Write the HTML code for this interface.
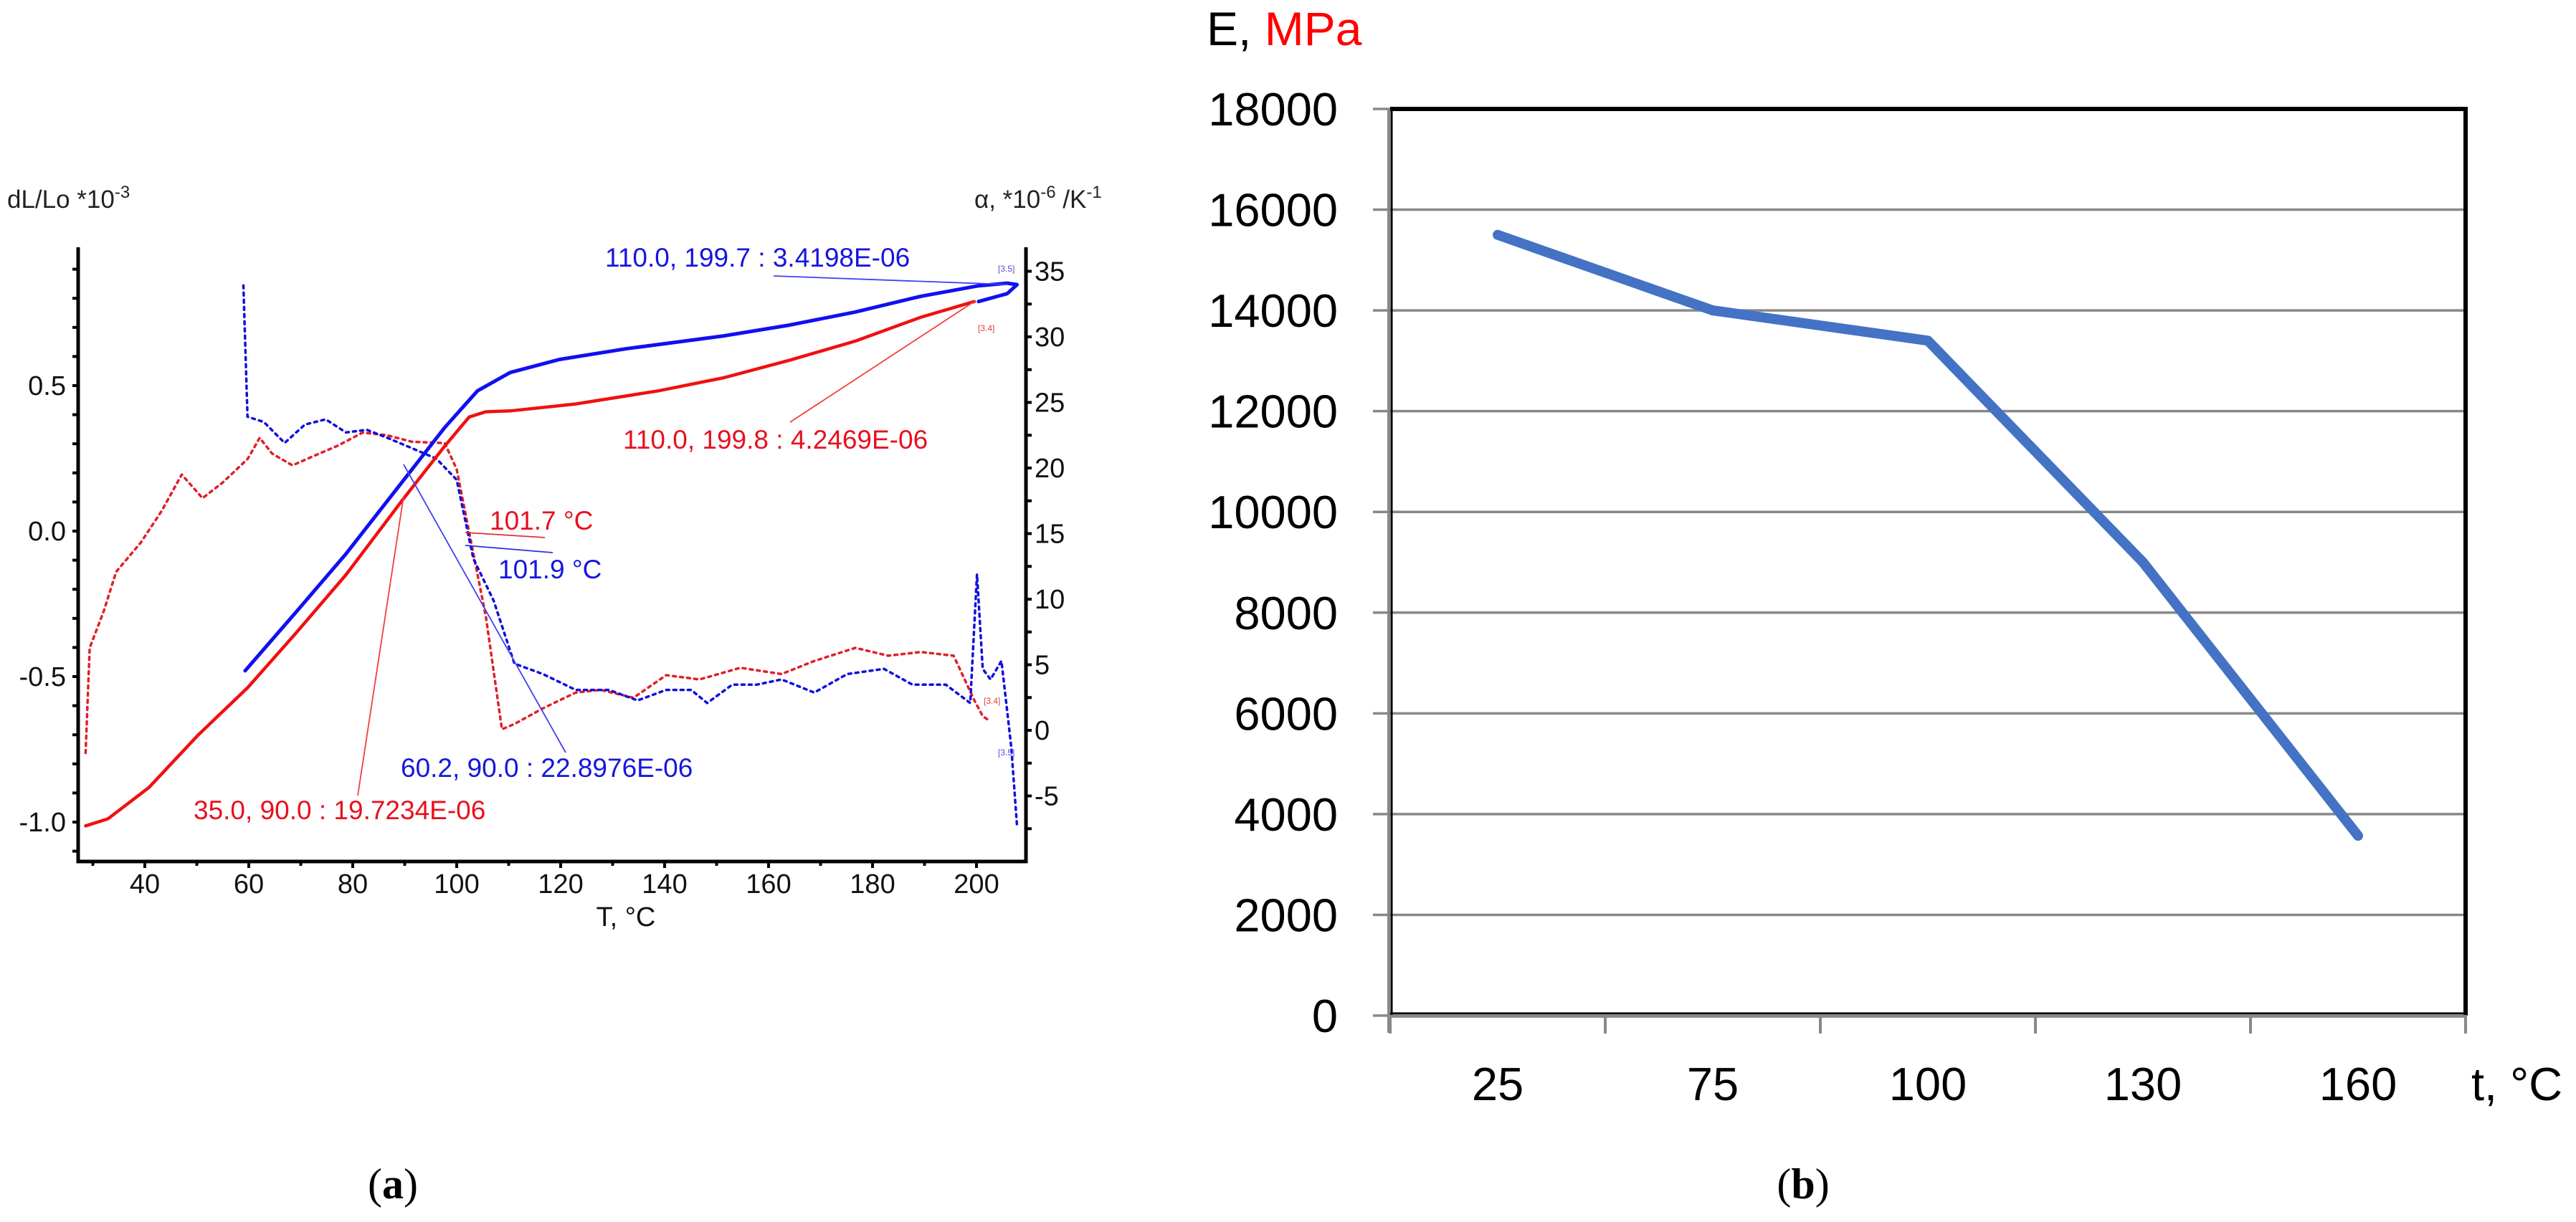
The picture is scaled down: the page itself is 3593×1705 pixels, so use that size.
<!DOCTYPE html>
<html><head><meta charset="utf-8"><style>
html,body{margin:0;padding:0;background:#fff;}
svg{display:block;font-family:"Liberation Sans",Arial,sans-serif;}
</style></head><body>
<svg id="fig" width="3593" height="1705" viewBox="0 0 3593 1705" xmlns="http://www.w3.org/2000/svg">
<rect width="3593" height="1705" fill="#fff"/>
<g id="chartA"></g>
<g id="chartB"></g>
</svg>
<script>
// ---------- Chart (a) data ----------
const redSolidT = [28.6,32.9,40.8,50.3,59.8,69.2,78.7,89.8,97.7,102.4,105.6,110.3,122.9,138.8,151.4,164,176.7,189.3,199.6];
const redSolidV = [-1.013,-0.989,-0.881,-0.700,-0.538,-0.348,-0.150,0.112,0.292,0.392,0.410,0.413,0.437,0.482,0.527,0.587,0.653,0.735,0.789];
const blueSolidT = [59.3,69.2,78.7,88.2,97.7,104,110.3,119.8,132.4,151.4,164,176.7,189.3,200.4,205.9,207.8,205.9,200.4];
const blueSolidV = [-0.480,-0.276,-0.078,0.139,0.356,0.482,0.545,0.590,0.626,0.671,0.708,0.753,0.807,0.843,0.852,0.847,0.816,0.789];
const redDotT = [28.6,29.4,32.1,34.5,39.2,43.2,47.1,51.1,55.0,59.8,62.1,64.5,68.4,72.4,77.1,81.9,86.6,91.4,97.7,100.0,103.2,105.6,108.7,111.1,116.6,122.9,127.7,134.0,140.3,146.7,154.6,162.5,168.8,176.7,183.0,189.3,195.6,199.6,201.2,202.7];
const redDotA = [-1.72,6.29,9.09,12.1,14.3,16.7,19.5,17.7,18.9,20.7,22.3,21.1,20.2,20.9,21.7,22.7,22.5,22.0,21.9,19.9,13.5,8.7,0.08,0.48,1.68,2.88,3.08,2.48,4.21,3.88,4.77,4.29,5.29,6.29,5.69,5.97,5.69,2.28,1.08,0.68];
const blueDotT = [58.96,59.75,62.9,66.9,70.8,74.8,78.7,82.7,86.6,91.4,96.1,100.0,103.2,107.1,111.1,116.6,122.9,129.3,134.8,140.3,145.1,148.2,153.0,157.7,162.5,168.8,175.1,182.2,187.7,194.1,198.8,200.1,201.2,202.7,204.8,205.9,206.7,207.8];
const blueDotA = [33.92,23.91,23.51,21.91,23.31,23.71,22.71,22.91,22.31,21.51,20.71,19.10,13.10,9.89,5.09,4.29,3.08,3.08,2.28,3.08,3.08,2.08,3.48,3.48,3.88,2.88,4.29,4.69,3.48,3.48,2.08,11.9,4.69,3.88,5.29,1.48,-1.32,-7.33];
const xTicksA = [40,60,80,100,120,140,160,180,200];
const yLeftTicks = [-1.0,-0.5,0.0,0.5];
const yLeftLabels = ["-1.0","-0.5","0.0","0.5"];
const yRightTicks = [-5,0,5,10,15,20,25,30,35];

// ---------- Chart (b) data ----------
const categoriesB = ["25","75","100","130","160"];
const modulusB = [15500,14000,13400,9000,3570];
const yTicksB = [0,2000,4000,6000,8000,10000,12000,14000,16000,18000];

const NS="http://www.w3.org/2000/svg";
function mk(parent,tag,attrs,text){const e=document.createElementNS(NS,tag);for(const k in attrs)e.setAttribute(k,attrs[k]);if(text!==undefined)e.textContent=text;parent.appendChild(e);return e;}

// ---- chart A ----
const A=document.getElementById('chartA');
const axL=109, axR=1431, axT=345, axB=1202;
const xA=t=>202+(t-40)*7.25;
const yL=v=>741-v*406;
const yR=a=>1019-a*18.3;

let e;
// axes
e=mk(A,'path',{d:`M${axL},${axT} L${axL},${axB} L${axR},${axB} L${axR},${axT}`,fill:'none',stroke:'#000','stroke-width':5});


// x ticks
for(let t=30;t<=205;t+=10){
  e=mk(A,'line',{x1:xA(t),x2:xA(t),y1:axB,y2:axB+(t%20===0?9:6),stroke:'#000','stroke-width':4});
  
  
}
xTicksA.forEach(t=>{
  e=mk(A,'text',{x:xA(t),y:1246,'font-size':38,'text-anchor':'middle',fill:'#111'},String(t));
  
  
});
e=mk(A,'text',{x:873,y:1292,'font-size':38,'text-anchor':'middle',fill:'#111'},'T,  °C');


// left ticks
for(let v=-1.1;v<=0.96;v+=0.1){
  e=mk(A,'line',{x1:axL-8,x2:axL,y1:yL(v),y2:yL(v),stroke:'#000','stroke-width':4});
  
  
}
yLeftTicks.forEach((v,i)=>{
  e=mk(A,'text',{x:92,y:yL(v)+13,'font-size':38,'text-anchor':'end',fill:'#111'},yLeftLabels[i]);
  
  
});
// right ticks
for(let a=-7.5;a<=35.1;a+=2.5){
  e=mk(A,'line',{x1:axR,x2:axR+8,y1:yR(a),y2:yR(a),stroke:'#000','stroke-width':4});
  
  
}
yRightTicks.forEach(a=>{
  e=mk(A,'text',{x:1443,y:yR(a)+13,'font-size':38,'text-anchor':'start',fill:'#111'},String(a));
  
  
});
// axis titles
e=mk(A,'text',{x:10,y:290,'font-size':35,fill:'#222'});


e.innerHTML='dL/Lo *10<tspan dy="-14" font-size="24">-3</tspan>';
e=mk(A,'text',{x:1359,y:290,'font-size':35,fill:'#222'});


e.innerHTML='α,  *10<tspan dy="-14" font-size="24">-6</tspan><tspan dy="14"> /K</tspan><tspan dy="-14" font-size="24">-1</tspan>';

function series(T,V,yf,color,w,dash,name){
  const d=T.map((t,i)=>(i?'L':'M')+xA(t).toFixed(1)+','+yf(V[i]).toFixed(1)).join(' ');
  const attrs={d:d,fill:'none',stroke:color,'stroke-width':w,'stroke-linejoin':'round','stroke-linecap':'round'};
  if(dash)attrs['stroke-dasharray']=dash;
  const p=mk(A,'path',attrs);
  
  
}
series(redDotT,redDotA,yR,'#e0202a',3.5,'4,6','alpha-heating-dotted');
series(blueDotT,blueDotA,yR,'#1010e0',3.5,'4,6','alpha-cooling-dotted');
series(redSolidT,redSolidV,yL,'#f01010',4.5,null,'dl-heating-line');
series(blueSolidT,blueSolidV,yL,'#1010f0',5,null,'dl-cooling-line');

// annotations
function leader(x1,y1,x2,y2,c,name){
  const l=mk(A,'line',{x1:x1,y1:y1,x2:x2,y2:y2,stroke:c,'stroke-width':1.8});
  
  
}
function note(x,y,txt,c,name,fs){
  const t=mk(A,'text',{x:x,y:y,'font-size':fs||37,fill:c},txt);
  
  
}
leader(1079,385,1406,397,'#4040f0','annotation-leader-blue-top');
note(844,372,'110.0, 199.7 : 3.4198E-06','#1515e0','annotation-blue-top');
leader(1102,589,1360,420,'#f04040','annotation-leader-red-top');
note(869,626,'110.0, 199.8 : 4.2469E-06','#e8101e','annotation-red-top');
leader(649,743,760,750,'#e03030','annotation-leader-red-tg');
note(683,739,'101.7 °C','#e8101e','annotation-red-tg');
leader(649,761,771,771,'#3030e0','annotation-leader-blue-tg');
note(695,807,'101.9 °C','#1515e0','annotation-blue-tg');
leader(563,648,789,1050,'#4040f0','annotation-leader-blue-bottom');
note(559,1084,'60.2, 90.0 : 22.8976E-06','#1515e0','annotation-blue-bottom');
leader(563,692,499,1110,'#f04040','annotation-leader-red-bottom');
note(270,1143,'35.0, 90.0 : 19.7234E-06','#e8101e','annotation-red-bottom');
note(1392,379,'[3.5]','#5050e0','marker-tag-3-5',12);
note(1364,462,'[3.4]','#e04040','marker-tag-3-4',12);
note(1372,982,'[3.4]','#e04040','marker-tag-3-4-low',12);
note(1392,1054,'[3.5]','#5050e0','marker-tag-3-5-low',12);

e=mk(A,'text',{x:548,y:1672,'font-size':60,'text-anchor':'middle',fill:'#000','font-family':'"Liberation Serif",serif'});


e.innerHTML='(<tspan font-weight="bold">a</tspan>)';

// ---- chart B ----
const B=document.getElementById('chartB');
const bL=1939,bR=3439,bT=152,bB=1417;
const yB=v=>bB-(v/18000)*(bB-bT);
const step=(bR-bL)/categoriesB.length;
const xB=i=>bL+step*(i+0.5);

yTicksB.forEach(v=>{
  if(v>0&&v<18000){
    e=mk(B,'line',{x1:bL,x2:bR,y1:yB(v),y2:yB(v),stroke:'#888','stroke-width':3.5});
    
    
  }
  e=mk(B,'line',{x1:bL-24,x2:bL,y1:yB(v),y2:yB(v),stroke:'#888','stroke-width':3.5});
  
  
  e=mk(B,'text',{x:1866,y:yB(v)+23,'font-size':65,'text-anchor':'end',fill:'#000'},String(v));
  
  
});
// frame
e=mk(B,'path',{d:`M${bL},${bT} L${bR},${bT} L${bR},${bB}`,fill:'none',stroke:'#000','stroke-width':6});


e=mk(B,'line',{x1:bL+2,x2:bL+2,y1:bT,y2:bB,stroke:'#000','stroke-width':3});


e=mk(B,'line',{x1:bL-2,x2:bL-2,y1:bT,y2:bB+24,stroke:'#888','stroke-width':4});


e=mk(B,'line',{x1:bL,x2:bR,y1:bB-3,y2:bB-3,stroke:'#000','stroke-width':3});


e=mk(B,'line',{x1:bL,x2:bR+2,y1:bB+1,y2:bB+1,stroke:'#888','stroke-width':4});


for(let i=0;i<=categoriesB.length;i++){
  e=mk(B,'line',{x1:bL+step*i,x2:bL+step*i,y1:bB,y2:bB+25,stroke:'#888','stroke-width':4});
  
  
}
categoriesB.forEach((c,i)=>{
  e=mk(B,'text',{x:xB(i),y:1535,'font-size':65,'text-anchor':'middle',fill:'#000'},c);
  
  
});
const dB=modulusB.map((v,i)=>(i?'L':'M')+xB(i).toFixed(1)+','+yB(v).toFixed(1)).join(' ');
e=mk(B,'path',{d:dB,fill:'none',stroke:'#4472C4','stroke-width':14,'stroke-linejoin':'round','stroke-linecap':'round'});



e=mk(B,'text',{x:1683,y:63,'font-size':66,fill:'#000'});


e.innerHTML='E, <tspan fill="#ff0000">MPa</tspan>';
e=mk(B,'text',{x:3447,y:1535,'font-size':65,fill:'#000'},'t, °C');


e=mk(B,'text',{x:2515,y:1672,'font-size':60,'text-anchor':'middle',fill:'#000','font-family':'"Liberation Serif",serif'});


e.innerHTML='(<tspan font-weight="bold">b</tspan>)';
</script>
</body></html>
